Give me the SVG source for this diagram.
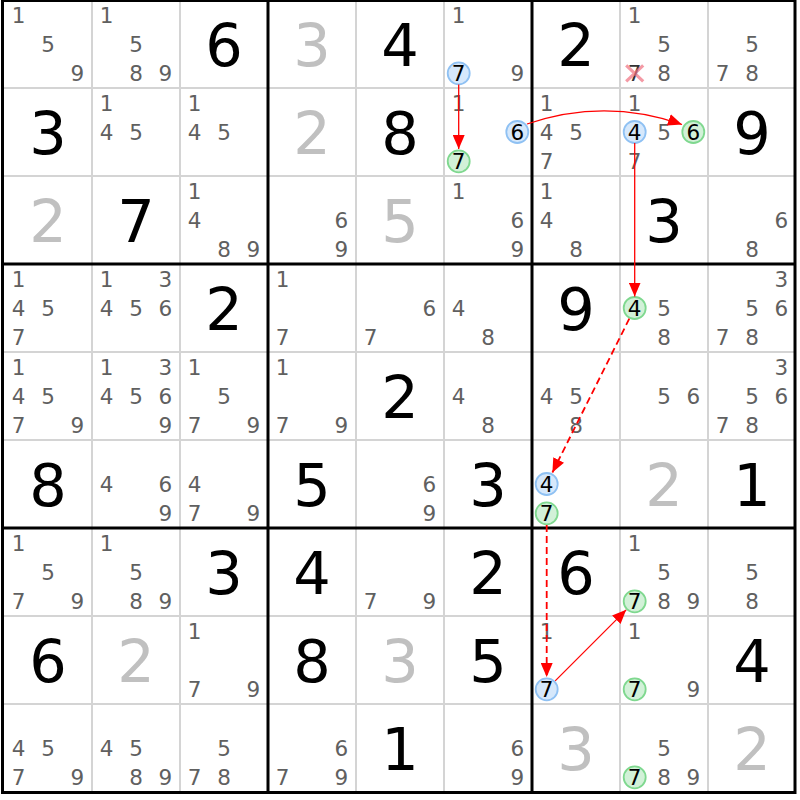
<svg xmlns="http://www.w3.org/2000/svg" width="800" height="800" viewBox="0 0 800 800">
<style>
text{font-family:"DejaVu Sans","Liberation Sans",sans-serif;text-anchor:middle}
.c{font-size:21.5px;fill:#606060}
.k{font-size:21.5px;fill:#000}
.g{font-size:59px;fill:#000}
.s{font-size:59px;fill:#c0c0c0}
.thin{stroke:#d4d4d4;stroke-width:2}
.thick{stroke:#000;stroke-width:3}
.hb{fill:#d6e8fb;stroke:#8fc1f3;stroke-width:1.8}
.hg{fill:#d2f1d8;stroke:#7fd88f;stroke-width:1.8}
.a{stroke:#ff0000;fill:none;stroke-width:1.3}
.d{stroke-dasharray:7,4;stroke-width:1.8}
</style>
<defs>
<marker id="ah" viewBox="0 0 14 12" refX="14" refY="6" markerWidth="14" markerHeight="12" markerUnits="userSpaceOnUse" orient="auto"><path d="M0,0 L14,6 L0,12 z" fill="#ff0000"/></marker>
</defs>
<rect x="0" y="0" width="800" height="800" fill="#fff"/>
<g id="grid">
<path class="thin" d="M92,0V792M180,0V792M356,0V792M444,0V792M620,0V792M708,0V792M4,88H796M4,176H796M4,352H796M4,440H796M4,616H796M4,704H796"/>
<path class="thick" d="M268,0V792M532,0V792M4,264H796M4,528H796"/>
<rect class="thick" x="2.5" y="0.5" width="792.5" height="792" fill="none"/>
</g>
<g id="r0c0"><text class="c" x="18.7" y="22.5">1</text><text class="c" x="48" y="51.8">5</text><text class="c" x="77.3" y="81.1">9</text></g>
<g id="r0c1"><text class="c" x="106.7" y="22.5">1</text><text class="c" x="136" y="51.8">5</text><text class="c" x="136" y="81.1">8</text><text class="c" x="165.3" y="81.1">9</text></g>
<g id="r0c2"><text class="g" x="224" y="65.5">6</text></g>
<g id="r0c3"><text class="s" x="312" y="65.5">3</text></g>
<g id="r0c4"><text class="g" x="400" y="65.5">4</text></g>
<g id="r0c5"><text class="c" x="458.7" y="22.5">1</text><circle class="hb" cx="458.7" cy="73.3" r="11"/><text class="k" x="458.7" y="81.1">7</text><text class="c" x="517.3" y="81.1">9</text></g>
<g id="r0c6"><text class="g" x="576" y="65.5">2</text></g>
<g id="r0c7"><text class="c" x="634.7" y="22.5">1</text><text class="c" x="664" y="51.8">5</text><text class="k" x="634.7" y="81.1" style="fill:#333">7</text><path d="M626.2,65.3L643.2,81.3M643.2,65.3L626.2,81.3" stroke="#f07080" stroke-width="3.2" opacity="0.7"/><text class="c" x="664" y="81.1">8</text></g>
<g id="r0c8"><text class="c" x="752" y="51.8">5</text><text class="c" x="722.7" y="81.1">7</text><text class="c" x="752" y="81.1">8</text></g>
<g id="r1c0"><text class="g" x="48" y="153.5">3</text></g>
<g id="r1c1"><text class="c" x="106.7" y="110.5">1</text><text class="c" x="106.7" y="139.8">4</text><text class="c" x="136" y="139.8">5</text></g>
<g id="r1c2"><text class="c" x="194.7" y="110.5">1</text><text class="c" x="194.7" y="139.8">4</text><text class="c" x="224" y="139.8">5</text></g>
<g id="r1c3"><text class="s" x="312" y="153.5">2</text></g>
<g id="r1c4"><text class="g" x="400" y="153.5">8</text></g>
<g id="r1c5"><text class="c" x="458.7" y="110.5">1</text><circle class="hb" cx="517.3" cy="132" r="11"/><text class="k" x="517.3" y="139.8">6</text><circle class="hg" cx="458.7" cy="161.3" r="11"/><text class="k" x="458.7" y="169.1">7</text></g>
<g id="r1c6"><text class="c" x="546.7" y="110.5">1</text><text class="c" x="546.7" y="139.8">4</text><text class="c" x="576" y="139.8">5</text><text class="c" x="546.7" y="169.1">7</text></g>
<g id="r1c7"><text class="c" x="634.7" y="110.5">1</text><circle class="hb" cx="634.7" cy="132" r="11"/><text class="k" x="634.7" y="139.8">4</text><text class="c" x="664" y="139.8">5</text><circle class="hg" cx="693.3" cy="132" r="11"/><text class="k" x="693.3" y="139.8">6</text><text class="c" x="634.7" y="169.1">7</text></g>
<g id="r1c8"><text class="g" x="752" y="153.5">9</text></g>
<g id="r2c0"><text class="s" x="48" y="241.5">2</text></g>
<g id="r2c1"><text class="g" x="136" y="241.5">7</text></g>
<g id="r2c2"><text class="c" x="194.7" y="198.5">1</text><text class="c" x="194.7" y="227.8">4</text><text class="c" x="224" y="257.1">8</text><text class="c" x="253.3" y="257.1">9</text></g>
<g id="r2c3"><text class="c" x="341.3" y="227.8">6</text><text class="c" x="341.3" y="257.1">9</text></g>
<g id="r2c4"><text class="s" x="400" y="241.5">5</text></g>
<g id="r2c5"><text class="c" x="458.7" y="198.5">1</text><text class="c" x="517.3" y="227.8">6</text><text class="c" x="517.3" y="257.1">9</text></g>
<g id="r2c6"><text class="c" x="546.7" y="198.5">1</text><text class="c" x="546.7" y="227.8">4</text><text class="c" x="576" y="257.1">8</text></g>
<g id="r2c7"><text class="g" x="664" y="241.5">3</text></g>
<g id="r2c8"><text class="c" x="781.3" y="227.8">6</text><text class="c" x="752" y="257.1">8</text></g>
<g id="r3c0"><text class="c" x="18.7" y="286.5">1</text><text class="c" x="18.7" y="315.8">4</text><text class="c" x="48" y="315.8">5</text><text class="c" x="18.7" y="345.1">7</text></g>
<g id="r3c1"><text class="c" x="106.7" y="286.5">1</text><text class="c" x="165.3" y="286.5">3</text><text class="c" x="106.7" y="315.8">4</text><text class="c" x="136" y="315.8">5</text><text class="c" x="165.3" y="315.8">6</text></g>
<g id="r3c2"><text class="g" x="224" y="329.5">2</text></g>
<g id="r3c3"><text class="c" x="282.7" y="286.5">1</text><text class="c" x="282.7" y="345.1">7</text></g>
<g id="r3c4"><text class="c" x="429.3" y="315.8">6</text><text class="c" x="370.7" y="345.1">7</text></g>
<g id="r3c5"><text class="c" x="458.7" y="315.8">4</text><text class="c" x="488" y="345.1">8</text></g>
<g id="r3c6"><text class="g" x="576" y="329.5">9</text></g>
<g id="r3c7"><circle class="hg" cx="634.7" cy="308" r="11"/><text class="k" x="634.7" y="315.8">4</text><text class="c" x="664" y="315.8">5</text><text class="c" x="664" y="345.1">8</text></g>
<g id="r3c8"><text class="c" x="781.3" y="286.5">3</text><text class="c" x="752" y="315.8">5</text><text class="c" x="781.3" y="315.8">6</text><text class="c" x="722.7" y="345.1">7</text><text class="c" x="752" y="345.1">8</text></g>
<g id="r4c0"><text class="c" x="18.7" y="374.5">1</text><text class="c" x="18.7" y="403.8">4</text><text class="c" x="48" y="403.8">5</text><text class="c" x="18.7" y="433.1">7</text><text class="c" x="77.3" y="433.1">9</text></g>
<g id="r4c1"><text class="c" x="106.7" y="374.5">1</text><text class="c" x="165.3" y="374.5">3</text><text class="c" x="106.7" y="403.8">4</text><text class="c" x="136" y="403.8">5</text><text class="c" x="165.3" y="403.8">6</text><text class="c" x="165.3" y="433.1">9</text></g>
<g id="r4c2"><text class="c" x="194.7" y="374.5">1</text><text class="c" x="224" y="403.8">5</text><text class="c" x="194.7" y="433.1">7</text><text class="c" x="253.3" y="433.1">9</text></g>
<g id="r4c3"><text class="c" x="282.7" y="374.5">1</text><text class="c" x="282.7" y="433.1">7</text><text class="c" x="341.3" y="433.1">9</text></g>
<g id="r4c4"><text class="g" x="400" y="417.5">2</text></g>
<g id="r4c5"><text class="c" x="458.7" y="403.8">4</text><text class="c" x="488" y="433.1">8</text></g>
<g id="r4c6"><text class="c" x="546.7" y="403.8">4</text><text class="c" x="576" y="403.8">5</text><text class="c" x="576" y="433.1">8</text></g>
<g id="r4c7"><text class="c" x="664" y="403.8">5</text><text class="c" x="693.3" y="403.8">6</text></g>
<g id="r4c8"><text class="c" x="781.3" y="374.5">3</text><text class="c" x="752" y="403.8">5</text><text class="c" x="781.3" y="403.8">6</text><text class="c" x="722.7" y="433.1">7</text><text class="c" x="752" y="433.1">8</text></g>
<g id="r5c0"><text class="g" x="48" y="505.5">8</text></g>
<g id="r5c1"><text class="c" x="106.7" y="491.8">4</text><text class="c" x="165.3" y="491.8">6</text><text class="c" x="165.3" y="521.1">9</text></g>
<g id="r5c2"><text class="c" x="194.7" y="491.8">4</text><text class="c" x="194.7" y="521.1">7</text><text class="c" x="253.3" y="521.1">9</text></g>
<g id="r5c3"><text class="g" x="312" y="505.5">5</text></g>
<g id="r5c4"><text class="c" x="429.3" y="491.8">6</text><text class="c" x="429.3" y="521.1">9</text></g>
<g id="r5c5"><text class="g" x="488" y="505.5">3</text></g>
<g id="r5c6"><circle class="hb" cx="546.7" cy="484" r="11"/><text class="k" x="546.7" y="491.8">4</text><circle class="hg" cx="546.7" cy="513.3" r="11"/><text class="k" x="546.7" y="521.1">7</text></g>
<g id="r5c7"><text class="s" x="664" y="505.5">2</text></g>
<g id="r5c8"><text class="g" x="752" y="505.5">1</text></g>
<g id="r6c0"><text class="c" x="18.7" y="550.5">1</text><text class="c" x="48" y="579.8">5</text><text class="c" x="18.7" y="609.1">7</text><text class="c" x="77.3" y="609.1">9</text></g>
<g id="r6c1"><text class="c" x="106.7" y="550.5">1</text><text class="c" x="136" y="579.8">5</text><text class="c" x="136" y="609.1">8</text><text class="c" x="165.3" y="609.1">9</text></g>
<g id="r6c2"><text class="g" x="224" y="593.5">3</text></g>
<g id="r6c3"><text class="g" x="312" y="593.5">4</text></g>
<g id="r6c4"><text class="c" x="370.7" y="609.1">7</text><text class="c" x="429.3" y="609.1">9</text></g>
<g id="r6c5"><text class="g" x="488" y="593.5">2</text></g>
<g id="r6c6"><text class="g" x="576" y="593.5">6</text></g>
<g id="r6c7"><text class="c" x="634.7" y="550.5">1</text><text class="c" x="664" y="579.8">5</text><circle class="hg" cx="634.7" cy="601.3" r="11"/><text class="k" x="634.7" y="609.1">7</text><text class="c" x="664" y="609.1">8</text><text class="c" x="693.3" y="609.1">9</text></g>
<g id="r6c8"><text class="c" x="752" y="579.8">5</text><text class="c" x="752" y="609.1">8</text></g>
<g id="r7c0"><text class="g" x="48" y="681.5">6</text></g>
<g id="r7c1"><text class="s" x="136" y="681.5">2</text></g>
<g id="r7c2"><text class="c" x="194.7" y="638.5">1</text><text class="c" x="194.7" y="697.1">7</text><text class="c" x="253.3" y="697.1">9</text></g>
<g id="r7c3"><text class="g" x="312" y="681.5">8</text></g>
<g id="r7c4"><text class="s" x="400" y="681.5">3</text></g>
<g id="r7c5"><text class="g" x="488" y="681.5">5</text></g>
<g id="r7c6"><text class="c" x="546.7" y="638.5">1</text><circle class="hb" cx="546.7" cy="689.3" r="11"/><text class="k" x="546.7" y="697.1">7</text></g>
<g id="r7c7"><text class="c" x="634.7" y="638.5">1</text><circle class="hg" cx="634.7" cy="689.3" r="11"/><text class="k" x="634.7" y="697.1">7</text><text class="c" x="693.3" y="697.1">9</text></g>
<g id="r7c8"><text class="g" x="752" y="681.5">4</text></g>
<g id="r8c0"><text class="c" x="18.7" y="755.8">4</text><text class="c" x="48" y="755.8">5</text><text class="c" x="18.7" y="785.1">7</text><text class="c" x="77.3" y="785.1">9</text></g>
<g id="r8c1"><text class="c" x="106.7" y="755.8">4</text><text class="c" x="136" y="755.8">5</text><text class="c" x="136" y="785.1">8</text><text class="c" x="165.3" y="785.1">9</text></g>
<g id="r8c2"><text class="c" x="224" y="755.8">5</text><text class="c" x="194.7" y="785.1">7</text><text class="c" x="224" y="785.1">8</text></g>
<g id="r8c3"><text class="c" x="341.3" y="755.8">6</text><text class="c" x="282.7" y="785.1">7</text><text class="c" x="341.3" y="785.1">9</text></g>
<g id="r8c4"><text class="g" x="400" y="769.5">1</text></g>
<g id="r8c5"><text class="c" x="517.3" y="755.8">6</text><text class="c" x="517.3" y="785.1">9</text></g>
<g id="r8c6"><text class="s" x="576" y="769.5">3</text></g>
<g id="r8c7"><text class="c" x="664" y="755.8">5</text><circle class="hg" cx="634.7" cy="777.3" r="11"/><text class="k" x="634.7" y="785.1">7</text><text class="c" x="664" y="785.1">8</text><text class="c" x="693.3" y="785.1">9</text></g>
<g id="r8c8"><text class="s" x="752" y="769.5">2</text></g>
<g id="connectors">
<path class="a" d="M458.7,84.5V149" marker-end="url(#ah)"/>
<path class="a" d="M527,124Q605,97.5 682,124.5" marker-end="url(#ah)"/>
<path class="a" d="M634.7,143V296.5" marker-end="url(#ah)"/>
<path class="a d" d="M629.3,318.7L552.4,472.5" marker-end="url(#ah)"/>
<path class="a d" d="M546.7,525V677" marker-end="url(#ah)"/>
<path d="M555.2,680.8L626.2,609.8" fill="none" stroke="#ff0000" stroke-width="1.2" marker-end="url(#ah)"/>
</g>
</svg>
